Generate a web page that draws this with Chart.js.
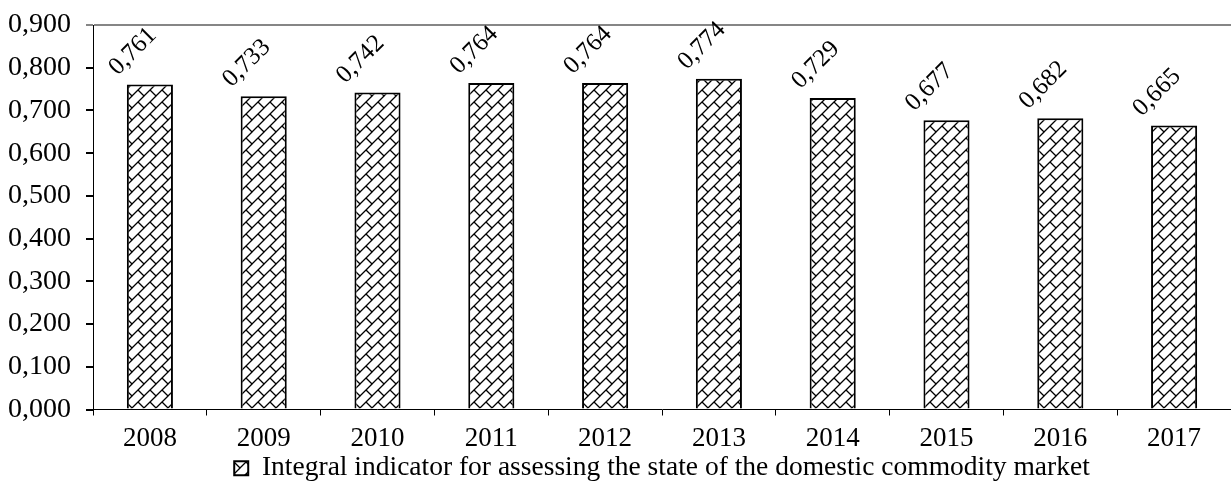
<!DOCTYPE html>
<html>
<head>
<meta charset="utf-8">
<script src="https://cdn.jsdelivr.net/npm/chart.js@4/dist/chart.umd.min.js"></script>
<style>
  html, body { margin: 0; padding: 0; background: #fff; }
  #wrap { width: 1231px; height: 492px; }
</style>
</head>
<body>
<div id="wrap"><canvas id="chart" width="1231" height="492"></canvas></div>
<script>
// Categories and values of the integral indicator
const years = ['2008', '2009', '2010', '2011', '2012', '2013', '2014', '2015', '2016', '2017'];
const indicatorValues = [0.761, 0.733, 0.742, 0.764, 0.764, 0.774, 0.729, 0.677, 0.682, 0.665];
const seriesName = 'Integral indicator for assessing the state of the domestic commodity market';
const yTickValues = [0, 0.1, 0.2, 0.3, 0.4, 0.5, 0.6, 0.7, 0.8, 0.9];

const fmt = v => v.toFixed(3).replace('.', ',');
const FONT = 'Liberation Serif, Times New Roman, serif';

// Diagonal brick hatch used as bar fill
function brickPattern() {
  const s = 12;
  const c = document.createElement('canvas');
  c.width = s; c.height = s;
  const g = c.getContext('2d');
  g.fillStyle = '#fff';
  g.fillRect(0, 0, s, s);
  g.strokeStyle = '#000';
  g.lineWidth = 1.3;
  g.beginPath();
  g.moveTo(-1, s + 1); g.lineTo(s + 1, -1);
  g.moveTo(-1, 1); g.lineTo(1, -1);
  g.moveTo(s - 1, s + 1); g.lineTo(s + 1, s - 1);
  g.moveTo(s / 2, s / 2); g.lineTo(s + 1, s + 1);
  g.moveTo(-1, -1); g.lineTo(0.5, 0.5);
  g.stroke();
  return g.createPattern(c, 'repeat');
}
const hatch = brickPattern();

// Rotated value labels above each bar
const valueLabels = {
  id: 'valueLabels',
  afterDatasetsDraw(chart) {
    const ctx = chart.ctx;
    const meta = chart.getDatasetMeta(0);
    const data = chart.data.datasets[0].data;
    ctx.save();
    ctx.font = '25px ' + FONT;
    ctx.fillStyle = '#000';
    ctx.textAlign = 'center';
    ctx.textBaseline = 'middle';
    meta.data.forEach((bar, i) => {
      ctx.save();
      ctx.translate(bar.x - 17, bar.y - 33);
      ctx.rotate(-Math.PI / 4);
      ctx.fillText(fmt(data[i]), 0, 0);
      ctx.restore();
    });
    ctx.restore();
  }
};

// Centre the legend under the plot area instead of the whole canvas
const legendUnderPlot = {
  id: 'legendUnderPlot',
  afterLayout(chart) {
    const lg = chart.legend;
    const a = chart.chartArea;
    const shift = (a.left + a.right) / 2 - (lg.left + lg.right) / 2;
    lg.left += shift;
    lg.right += shift;
  }
};

new Chart(document.getElementById('chart'), {
  type: 'bar',
  data: {
    labels: years,
    datasets: [{
      label: seriesName,
      data: indicatorValues,
      backgroundColor: hatch,
      borderColor: '#000',
      borderWidth: 2,
      categoryPercentage: 1,
      barPercentage: 0.405
    }]
  },
  plugins: [valueLabels, legendUnderPlot],
  options: {
    responsive: false,
    animation: false,
    events: [],
    layout: { padding: { left: 8, right: 0, top: 25, bottom: 0 } },
    plugins: {
      tooltip: { enabled: false },
      legend: {
        position: 'bottom',
        labels: {
          color: '#000',
          font: { family: FONT, size: 27.5, lineHeight: 1 },
          boxWidth: 14,
          boxHeight: 14,
          padding: 0
        }
      }
    },
    scales: {
      x: {
        offset: true,
        afterFit: s => { s.height -= 8; },
        grid: {
          offset: true,
          drawOnChartArea: false,
          drawTicks: true,
          tickLength: 6,
          tickColor: '#000'
        },
        border: { display: true, color: '#000', width: 1 },
        ticks: {
          color: '#000',
          font: { family: FONT, size: 27, lineHeight: 1 },
          padding: 10,
          maxRotation: 0
        }
      },
      y: {
        min: 0,
        max: 0.9,
        afterBuildTicks: axis => { axis.ticks = yTickValues.map(v => ({ value: v })); },
        afterFit: s => { s.width = 85; s.paddingTop = 0; s.paddingBottom = 0; },
        grid: {
          color: c => (c.tick && Math.abs(c.tick.value - 0.9) < 1e-9) ? '#868686' : 'rgba(0,0,0,0)',
          tickColor: c => (c.tick && Math.abs(c.tick.value - 0.9) < 1e-9) ? '#868686' : '#000',
          lineWidth: 2,
          tickLength: 7
        },
        border: { display: true, color: '#000', width: 1 },
        ticks: {
          color: '#000',
          font: { family: FONT, size: 28 },
          padding: 15,
          callback: v => fmt(v)
        }
      }
    }
  }
});
</script>
</body>
</html>
